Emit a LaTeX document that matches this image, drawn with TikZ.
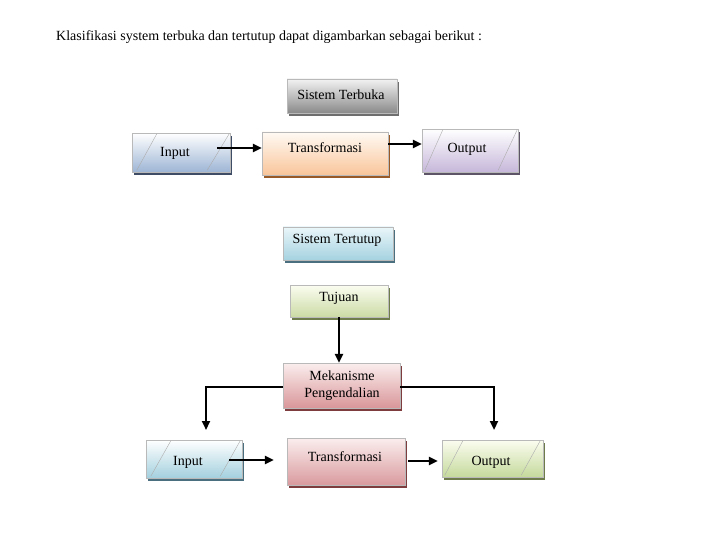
\documentclass[tikz,border=0pt]{standalone}
\usepackage{fontspec}
\setmainfont{Liberation Serif}
\usetikzlibrary{arrows.meta,shadows,calc}
\definecolor{shgray}{HTML}{6E6E6E}
\definecolor{shbrown}{HTML}{9A5A28}
\definecolor{shnavy}{HTML}{3E4C66}
\definecolor{shpurple}{HTML}{5E5468}
\definecolor{shteal}{HTML}{4A7080}
\definecolor{sholive}{HTML}{6E7C4C}
\definecolor{shmaroon}{HTML}{7E3C3E}
\definecolor{cSTBt}{HTML}{F2F2F2}\definecolor{cSTBb}{HTML}{8A8A8A}
\definecolor{cTFAt}{HTML}{FFFAF4}\definecolor{cTFAb}{HTML}{F9C59A}
\definecolor{cINAt}{HTML}{FFFFFF}\definecolor{cINAb}{HTML}{9DB5D5}
\definecolor{cOUAt}{HTML}{FFFFFF}\definecolor{cOUAb}{HTML}{C6B7DA}
\definecolor{cSTTt}{HTML}{EAF6FA}\definecolor{cSTTb}{HTML}{A5D2E0}
\definecolor{cTUJt}{HTML}{FBFDF0}\definecolor{cTUJb}{HTML}{CBDAA5}
\definecolor{cMEKt}{HTML}{FBEEEE}\definecolor{cMEKb}{HTML}{D99699}
\definecolor{cINBt}{HTML}{FFFFFF}\definecolor{cINBb}{HTML}{A3D0DE}
\definecolor{cTFBt}{HTML}{FBEEEE}\definecolor{cTFBb}{HTML}{D99A9E}
\definecolor{cOUBt}{HTML}{FBFDF0}\definecolor{cOUBb}{HTML}{C5D99C}
\tikzset{
  gbox/.style n args={3}{draw=gray!55, line width=0.4pt, inner sep=0pt,
     top color=#1, bottom color=#2,
     drop shadow={shadow xshift=2pt, shadow yshift=-3pt, fill=#3, opacity=1}},
  txt/.style={font=\fontsize{14}{16}\selectfont, inner sep=0pt, align=center},
  diag/.style={draw=gray!65, line width=0.4pt},
  arr/.style={line width=2.2pt, -{Triangle[length=9pt,width=8pt]}},
  conn/.style={line width=1.3pt}
}
\begin{document}
\begin{tikzpicture}[x=1pt,y=-1pt]
\useasboundingbox (0,0) rectangle (720,540);
\node[txt, anchor=west] (title) at (56,37) {Klasifikasi system terbuka dan tertutup dapat digambarkan sebagai berikut :};

% Sistem Terbuka
\node[gbox={cSTBt}{cSTBb}{shgray}, minimum width=110pt, minimum height=34pt] (stb) at (342,96) {};
\node[txt] (stbt) at (341,95) {Sistem Terbuka};

\node[gbox={cTFAt}{cTFAb}{shbrown}, minimum width=126pt, minimum height=43pt] (tfa) at (325,153.5) {};
\node[txt] (tfat) at (325,148) {Transformasi};

\node[gbox={cINAt}{cINAb}{shnavy}, minimum width=98pt, minimum height=39pt] (ina) at (181,152.5) {};
\draw[diag] ($(ina.south west)+(5,-2)$) -- ($(ina.north west)+(25,1)$);
\draw[diag] ($(ina.south east)+(-23,-2)$) -- ($(ina.north east)+(-1,1)$);
\node[txt] (inat) at (175,153) {Input};

\node[gbox={cOUAt}{cOUAb}{shpurple}, minimum width=96pt, minimum height=43pt] (outa) at (470,150.5) {};
\draw[diag] ($(outa.south west)+(3,-2)$) -- ($(outa.north west)+(21,1)$);
\draw[diag] ($(outa.south east)+(-20,-2)$) -- ($(outa.north east)+(-1,1)$);
\node[txt] (outat) at (467,149) {Output};

\coordinate (a1s) at (217,148);
\draw[arr] (a1s) -- (a1s -| tfa.west);
\coordinate (a2s) at (388,144);
\draw[arr] (a2s) -- (a2s -| outa.west);

% Sistem Tertutup
\node[gbox={cSTTt}{cSTTb}{shteal}, minimum width=110pt, minimum height=33pt] (stt) at (338,243.5) {};
\node[txt] (sttt) at (337,240) {Sistem Tertutup};

\node[gbox={cTUJt}{cTUJb}{sholive}, minimum width=98pt, minimum height=32pt] (tuj) at (339,301) {};
\node[txt] (tujt) at (339,298) {Tujuan};

\node[gbox={cMEKt}{cMEKb}{shmaroon}, minimum width=117pt, minimum height=45pt] (mek) at (341.5,385.5) {};
\node[txt, font=\fontsize{14}{17}\selectfont] (mekt) at (342,385.5) {Mekanisme\\Pengendalian};

\draw[arr] (tuj.south) -- (tuj.south |- mek.north);

\node[gbox={cINBt}{cINBb}{shteal}, minimum width=96pt, minimum height=38pt] (inb) at (194,459) {};
\draw[diag] ($(inb.south west)+(5,-2)$) -- ($(inb.north west)+(25,1)$);
\draw[diag] ($(inb.south east)+(-22,-2)$) -- ($(inb.north east)+(-2,1)$);
\node[txt] (inbt) at (188,462) {Input};

\node[gbox={cTFBt}{cTFBb}{shmaroon}, minimum width=118pt, minimum height=47pt] (tfb) at (346,461.5) {};
\node[txt] (tfbt) at (345,457) {Transformasi};

\node[gbox={cOUBt}{cOUBb}{sholive}, minimum width=101pt, minimum height=37pt] (outb) at (492.5,458.5) {};
\draw[diag] ($(outb.south west)+(3,-2)$) -- ($(outb.north west)+(21,1)$);
\draw[diag] ($(outb.south east)+(-22,-2)$) -- ($(outb.north east)+(-3,1)$);
\node[txt] (outbt) at (491,462) {Output};

\coordinate (lb) at (206,430);
\coordinate (rb) at (494,430);
\draw[conn] ([yshift=-1.5pt]mek.west) -| ([yshift=8pt]lb);
\draw[arr] ([yshift=9pt]lb) -- (lb);
\draw[conn] ([yshift=-1.5pt]mek.east) -| ([yshift=8pt]rb);
\draw[arr] ([yshift=9pt]rb) -- (rb);

\coordinate (b1s) at (229,460);
\draw[arr] (b1s) -- ($(b1s -| tfb.west)+(-13,0)$);
\coordinate (b2s) at (408,461);
\draw[arr] (b2s) -- ($(b2s -| outb.west)+(-4,0)$);
\end{tikzpicture}
\end{document}
